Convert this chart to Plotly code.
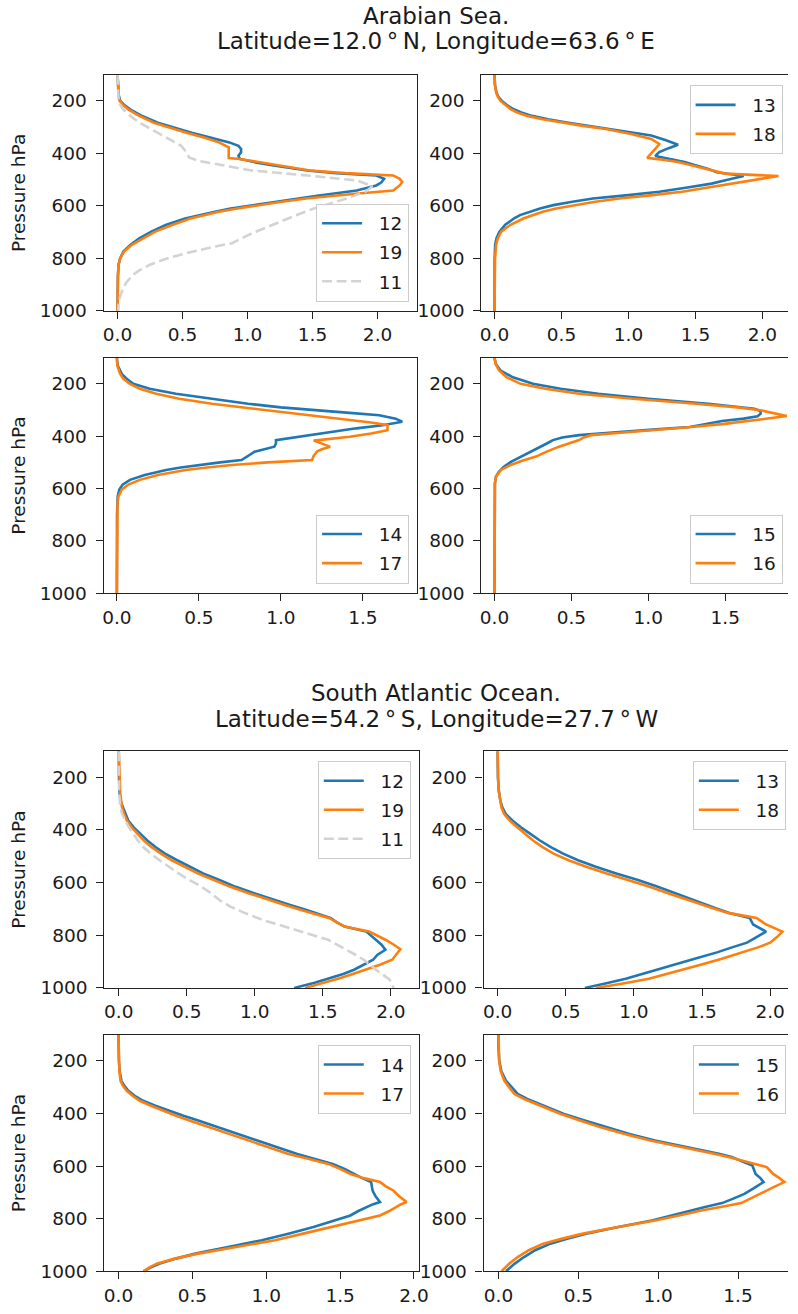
import plotly.graph_objects as go

W, H = 798, 1314
BLUE, ORANGE, GREY = "#1f77b4", "#ff7f0e", "#d3d3d3"
FONT = "DejaVu Sans"
INK = "#1a1a1a"

# ---------------- Arabian Sea (12.0 N, 63.6 E) ----------------
# pressure levels (hPa) and profile values for each experiment
as12_p = [101, 150, 180, 199, 215, 233, 255, 283, 300, 321, 340, 358, 371, 383, 396, 409, 421, 433, 446, 465, 475, 484, 497, 510, 522, 541, 560, 572, 585, 597, 610, 623, 648, 673, 698, 723, 748, 774, 800, 824, 870, 1000]
as12_v = [0.0, 0.003, 0.01, 0.02, 0.05, 0.10, 0.18, 0.31, 0.42, 0.57, 0.72, 0.86, 0.93, 0.95, 0.95, 0.93, 0.94, 1.05, 1.2, 1.46, 1.68, 1.99, 2.05, 2.03, 1.99, 1.84, 1.55, 1.38, 1.20, 1.02, 0.87, 0.74, 0.52, 0.37, 0.26, 0.17, 0.10, 0.045, 0.02, 0.008, 0.003, 0.0]
as19_p = [101, 150, 180, 199, 215, 233, 255, 283, 300, 321, 340, 358, 377, 396, 418, 421, 433, 446, 465, 475, 484, 497, 509, 522, 541, 553, 572, 585, 597, 610, 623, 648, 673, 698, 723, 748, 774, 800, 824, 870, 1000]
as19_v = [0.0, 0.003, 0.008, 0.015, 0.04, 0.085, 0.16, 0.28, 0.39, 0.53, 0.67, 0.78, 0.855, 0.855, 0.855, 0.94, 1.08, 1.23, 1.48, 1.75, 2.12, 2.17, 2.19, 2.17, 2.12, 1.85, 1.45, 1.25, 1.08, 0.92, 0.77, 0.56, 0.42, 0.29, 0.20, 0.11, 0.05, 0.02, 0.008, 0.003, 0.0]
as11_p = [101, 150, 199, 215, 233, 258, 283, 308, 333, 352, 371, 396, 415, 428, 440, 453, 465, 484, 503, 525, 545, 572, 610, 640, 673, 705, 742, 760, 780, 800, 824, 845, 862, 890, 912, 945, 975, 1000]
as11_v = [0.0, 0.002, 0.008, 0.02, 0.045, 0.10, 0.17, 0.26, 0.35, 0.42, 0.49, 0.53, 0.55, 0.62, 0.76, 0.88, 1.03, 1.46, 1.84, 1.96, 1.91, 1.76, 1.51, 1.35, 1.18, 1.03, 0.88, 0.70, 0.53, 0.38, 0.25, 0.17, 0.12, 0.07, 0.045, 0.02, 0.008, 0.005]

as13_p = [101, 140, 168, 185, 200, 215, 231, 244, 257, 270, 282, 295, 307, 320, 332, 350, 367, 380, 395, 410, 422, 433, 445, 458, 472, 486, 500, 515, 530, 546, 560, 572, 585, 597, 610, 622, 635, 647, 672, 698, 723, 748, 800, 1000]
as13_v = [0.0, 0.004, 0.015, 0.03, 0.055, 0.09, 0.14, 0.20, 0.28, 0.40, 0.54, 0.70, 0.87, 1.02, 1.17, 1.28, 1.37, 1.30, 1.23, 1.20, 1.32, 1.42, 1.50, 1.59, 1.66, 1.86, 1.74, 1.62, 1.44, 1.23, 0.98, 0.735, 0.57, 0.44, 0.34, 0.26, 0.19, 0.147, 0.08, 0.037, 0.015, 0.005, 0.001, 0.0]
as18_p = [101, 140, 168, 185, 200, 215, 231, 244, 257, 270, 282, 295, 307, 326, 345, 364, 383, 400, 417, 425, 433, 445, 458, 477, 486, 500, 515, 530, 546, 560, 572, 585, 597, 610, 622, 635, 647, 672, 698, 723, 748, 800, 1000]
as18_v = [0.0, 0.003, 0.012, 0.025, 0.045, 0.08, 0.12, 0.17, 0.245, 0.36, 0.49, 0.66, 0.83, 1.02, 1.17, 1.23, 1.20, 1.17, 1.14, 1.27, 1.37, 1.47, 1.57, 1.72, 2.12, 1.95, 1.79, 1.60, 1.40, 1.16, 0.93, 0.74, 0.59, 0.46, 0.36, 0.28, 0.22, 0.12, 0.05, 0.025, 0.012, 0.004, 0.0]

as14_p = [101, 130, 162, 181, 200, 219, 238, 257, 276, 290, 301, 310, 320, 333, 345, 358, 370, 386, 402, 415, 428, 440, 459, 475, 491, 500, 510, 520, 529, 548, 567, 585, 604, 630, 700, 1000]
as14_v = [0.0, 0.005, 0.03, 0.06, 0.10, 0.20, 0.36, 0.57, 0.80, 1.00, 1.20, 1.40, 1.60, 1.70, 1.74, 1.62, 1.46, 1.28, 1.10, 0.97, 0.97, 0.96, 0.84, 0.80, 0.76, 0.63, 0.50, 0.39, 0.30, 0.17, 0.08, 0.035, 0.015, 0.005, 0.001, 0.0]
as17_p = [101, 130, 162, 181, 200, 219, 238, 257, 276, 295, 314, 326, 339, 348, 358, 377, 390, 402, 417, 428, 440, 450, 459, 475, 491, 500, 510, 520, 529, 548, 567, 585, 604, 630, 655, 1000]
as17_v = [0.0, 0.003, 0.02, 0.04, 0.08, 0.14, 0.24, 0.38, 0.58, 0.83, 1.10, 1.27, 1.42, 1.55, 1.65, 1.65, 1.55, 1.42, 1.20, 1.25, 1.30, 1.25, 1.22, 1.20, 1.19, 0.92, 0.70, 0.55, 0.42, 0.25, 0.14, 0.07, 0.03, 0.01, 0.004, 0.0]

as15_p = [101, 125, 149, 175, 200, 219, 238, 257, 276, 295, 304, 314, 324, 333, 342, 353, 365, 374, 383, 396, 405, 415, 428, 440, 459, 478, 497, 516, 535, 554, 580, 1000]
as15_v = [0.0, 0.01, 0.04, 0.12, 0.25, 0.43, 0.675, 1.0, 1.39, 1.69, 1.73, 1.73, 1.71, 1.62, 1.48, 1.38, 1.27, 1.05, 0.84, 0.55, 0.44, 0.38, 0.34, 0.30, 0.24, 0.17, 0.11, 0.063, 0.03, 0.01, 0.003, 0.0]
as16_p = [101, 125, 149, 175, 200, 219, 238, 257, 276, 290, 301, 312, 323, 338, 354, 366, 377, 387, 396, 405, 415, 428, 440, 459, 478, 494, 510, 529, 554, 580, 1000]
as16_v = [0.0, 0.008, 0.03, 0.08, 0.17, 0.33, 0.55, 0.90, 1.31, 1.58, 1.73, 1.82, 1.90, 1.70, 1.48, 1.26, 1.05, 0.82, 0.63, 0.58, 0.55, 0.48, 0.42, 0.34, 0.27, 0.18, 0.105, 0.042, 0.01, 0.003, 0.0]

# ---------------- South Atlantic Ocean (54.2 S, 27.7 W) ----------------
sa12_p = [101, 150, 200, 263, 290, 313, 340, 364, 390, 414, 440, 465, 490, 515, 540, 565, 590, 616, 641, 666, 685, 704, 720, 735, 750, 767, 786, 800, 817, 835, 855, 875, 893, 912, 931, 947, 962, 980, 1000]
sa12_v = [0.0, 0.0, 0.002, 0.007, 0.015, 0.03, 0.05, 0.07, 0.11, 0.155, 0.21, 0.27, 0.34, 0.43, 0.52, 0.62, 0.74, 0.86, 1.0, 1.14, 1.26, 1.38, 1.48, 1.56, 1.60, 1.66, 1.82, 1.85, 1.89, 1.93, 1.96, 1.90, 1.87, 1.80, 1.73, 1.65, 1.56, 1.44, 1.29]
sa19_p = [101, 150, 200, 263, 290, 313, 340, 364, 390, 414, 440, 465, 490, 515, 540, 565, 590, 616, 641, 666, 685, 704, 720, 735, 750, 767, 786, 800, 817, 835, 853, 873, 893, 912, 931, 947, 962, 980, 1000]
sa19_v = [0.0, 0.002, 0.007, 0.012, 0.018, 0.024, 0.04, 0.06, 0.095, 0.135, 0.185, 0.24, 0.31, 0.39, 0.48, 0.58, 0.70, 0.82, 0.96, 1.10, 1.22, 1.34, 1.45, 1.55, 1.60, 1.66, 1.84, 1.90, 1.96, 2.02, 2.07, 2.04, 2.01, 1.92, 1.82, 1.72, 1.63, 1.51, 1.37]
sa11_p = [101, 200, 263, 313, 340, 364, 390, 414, 440, 465, 490, 515, 540, 565, 590, 616, 641, 666, 691, 716, 742, 760, 780, 800, 817, 836, 855, 874, 893, 912, 931, 950, 968, 985, 1000]
sa11_v = [0.0, 0.0, 0.003, 0.012, 0.025, 0.048, 0.075, 0.107, 0.14, 0.18, 0.235, 0.30, 0.37, 0.44, 0.52, 0.61, 0.68, 0.74, 0.82, 0.93, 1.06, 1.17, 1.30, 1.43, 1.54, 1.61, 1.68, 1.74, 1.80, 1.85, 1.89, 1.94, 1.99, 2.01, 2.02]

sa13_p = [101, 150, 200, 250, 290, 315, 340, 365, 390, 415, 440, 465, 490, 515, 540, 565, 590, 615, 640, 660, 678, 697, 715, 734, 759, 786, 807, 828, 846, 865, 890, 915, 940, 965, 983, 1000]
sa13_v = [0.0, 0.0, 0.002, 0.008, 0.02, 0.035, 0.06, 0.11, 0.17, 0.24, 0.31, 0.39, 0.48, 0.59, 0.72, 0.87, 1.03, 1.17, 1.30, 1.40, 1.49, 1.60, 1.70, 1.85, 1.875, 1.97, 1.90, 1.83, 1.72, 1.61, 1.44, 1.27, 1.10, 0.94, 0.79, 0.64]
sa18_p = [101, 150, 200, 250, 290, 315, 340, 365, 390, 415, 440, 465, 490, 515, 540, 565, 590, 615, 640, 660, 678, 697, 715, 734, 759, 786, 807, 828, 846, 865, 890, 915, 940, 965, 983, 1000]
sa18_v = [0.0, 0.0, 0.003, 0.007, 0.017, 0.028, 0.048, 0.09, 0.144, 0.20, 0.26, 0.33, 0.41, 0.52, 0.65, 0.80, 0.96, 1.11, 1.25, 1.36, 1.46, 1.58, 1.69, 1.90, 1.97, 2.09, 2.05, 2.0, 1.91, 1.80, 1.64, 1.47, 1.29, 1.11, 0.92, 0.72]

sa14_p = [101, 150, 200, 240, 276, 295, 314, 333, 352, 371, 390, 409, 427, 446, 465, 490, 516, 535, 554, 573, 592, 611, 630, 646, 661, 677, 693, 715, 737, 746, 756, 772, 788, 810, 832, 857, 882, 907, 933, 952, 971, 985, 1000]
sa14_v = [0.0, 0.0, 0.003, 0.008, 0.02, 0.04, 0.067, 0.11, 0.167, 0.25, 0.34, 0.44, 0.54, 0.64, 0.74, 0.88, 1.01, 1.11, 1.21, 1.33, 1.45, 1.53, 1.59, 1.65, 1.71, 1.715, 1.72, 1.74, 1.77, 1.72, 1.68, 1.62, 1.57, 1.45, 1.32, 1.15, 0.97, 0.75, 0.52, 0.39, 0.28, 0.22, 0.17]
sa17_p = [101, 150, 200, 240, 276, 295, 314, 333, 352, 371, 390, 409, 427, 446, 465, 490, 516, 535, 554, 573, 592, 611, 630, 646, 661, 677, 693, 715, 737, 746, 756, 772, 788, 810, 832, 857, 882, 907, 933, 952, 971, 985, 1000]
sa17_v = [0.0, 0.0, 0.004, 0.007, 0.014, 0.03, 0.056, 0.095, 0.144, 0.22, 0.30, 0.39, 0.48, 0.58, 0.68, 0.81, 0.94, 1.05, 1.15, 1.29, 1.42, 1.50, 1.57, 1.66, 1.77, 1.81, 1.86, 1.90, 1.95, 1.91, 1.88, 1.83, 1.77, 1.61, 1.43, 1.25, 1.06, 0.80, 0.54, 0.38, 0.26, 0.21, 0.17]

sa15_p = [101, 150, 200, 240, 276, 300, 326, 345, 364, 383, 402, 427, 453, 478, 503, 522, 541, 553, 566, 582, 598, 614, 630, 646, 661, 684, 706, 724, 741, 755, 769, 788, 807, 832, 857, 876, 895, 920, 946, 972, 1000]
sa15_v = [0.0, 0.0, 0.005, 0.018, 0.047, 0.08, 0.12, 0.18, 0.26, 0.33, 0.41, 0.54, 0.675, 0.82, 0.98, 1.13, 1.29, 1.38, 1.46, 1.53, 1.59, 1.60, 1.61, 1.64, 1.66, 1.60, 1.54, 1.47, 1.40, 1.30, 1.21, 1.09, 0.96, 0.75, 0.55, 0.43, 0.325, 0.23, 0.16, 0.10, 0.047]
sa16_p = [101, 150, 200, 240, 276, 300, 326, 345, 364, 383, 402, 427, 453, 478, 503, 522, 541, 553, 566, 585, 604, 617, 630, 646, 661, 684, 706, 724, 741, 755, 769, 788, 807, 832, 857, 876, 895, 920, 946, 972, 1000]
sa16_v = [0.0, 0.0, 0.004, 0.014, 0.037, 0.066, 0.10, 0.16, 0.24, 0.31, 0.39, 0.51, 0.64, 0.79, 0.95, 1.10, 1.26, 1.35, 1.44, 1.56, 1.68, 1.70, 1.72, 1.76, 1.79, 1.71, 1.64, 1.58, 1.52, 1.40, 1.27, 1.13, 0.98, 0.75, 0.53, 0.40, 0.28, 0.19, 0.12, 0.065, 0.02]

P_RANGE = [1000, 101]
P_TICKS = [200, 400, 600, 800, 1000]
X_TICKS = [0.0, 0.5, 1.0, 1.5, 2.0]

SOLID, DASH = "solid", "10px,4.5px"

# panel layout in pixels: x extent, y extent, x range, legend anchor
panels = [
    dict(series=[("12", as12_p, as12_v, BLUE, SOLID), ("19", as19_p, as19_v, ORANGE, SOLID), ("11", as11_p, as11_v, GREY, DASH)],
         xr=[-0.106, 2.306], px=(103.3, 421.7), py=(75.5, 313.3), leg=(413.3, 304, "right", "bottom"), left=True),
    dict(series=[("13", as13_p, as13_v, BLUE, SOLID), ("18", as18_p, as18_v, ORANGE, SOLID)],
         xr=[-0.098, 2.191], px=(486.7, 798), py=(75.5, 313.3), leg=(792.5, 86, "right", "top"), left=False),
    dict(series=[("14", as14_p, as14_v, BLUE, SOLID), ("17", as17_p, as17_v, ORANGE, SOLID)],
         xr=[-0.08, 1.832], px=(103.3, 421.7), py=(360.7, 597.7), leg=(413.3, 588, "right", "bottom"), left=True),
    dict(series=[("15", as15_p, as15_v, BLUE, SOLID), ("16", as16_p, as16_v, ORANGE, SOLID)],
         xr=[-0.085, 1.908], px=(486.7, 798), py=(360.7, 597.7), leg=(792.5, 588, "right", "bottom"), left=False),
    dict(series=[("12", sa12_p, sa12_v, BLUE, SOLID), ("19", sa19_p, sa19_v, ORANGE, SOLID), ("11", sa11_p, sa11_v, GREY, DASH)],
         xr=[-0.105, 2.208], px=(104, 423.5), py=(757, 995.5), leg=(415, 767, "right", "top"), left=True),
    dict(series=[("13", sa13_p, sa13_v, BLUE, SOLID), ("18", sa18_p, sa18_v, ORANGE, SOLID)],
         xr=[-0.103, 2.131], px=(489, 798), py=(757, 995.5), leg=(795.8, 767, "right", "top"), left=False),
    dict(series=[("14", sa14_p, sa14_v, BLUE, SOLID), ("17", sa17_p, sa17_v, ORANGE, SOLID)],
         xr=[-0.095, 2.035], px=(104, 423.5), py=(1042.7, 1281), leg=(415, 1053, "right", "top"), left=True),
    dict(series=[("15", sa15_p, sa15_v, BLUE, SOLID), ("16", sa16_p, sa16_v, ORANGE, SOLID)],
         xr=[-0.093, 1.813], px=(489, 798), py=(1042.7, 1281), leg=(795.8, 1053, "right", "top"), left=False),
]

fig = go.Figure()
tick_font = dict(family=FONT, size=18.5, color=INK)

for i, pan in enumerate(panels, start=1):
    sfx = "" if i == 1 else str(i)
    for name, p, v, color, dash in pan["series"]:
        fig.add_trace(go.Scatter(
            x=v, y=p, mode="lines", name="\u00a0\u00a0" + name,
            line=dict(color=color, width=2.6, dash=dash),
            xaxis="x" + sfx, yaxis="y" + sfx,
            legend="legend" + sfx, legendgroup=f"g{i}_{name}",
        ))
    x0, x1 = pan["px"]
    y0, y1 = pan["py"]
    fig.layout["xaxis" + sfx] = dict(
        domain=[x0 / W, min(x1 / W, 1.0)], range=pan["xr"], anchor="y" + sfx,
        showline=True, linecolor="#222", linewidth=1.4, mirror=True,
        ticks="outside", ticklen=7, tickwidth=1.4, tickcolor="#222",
        tickvals=X_TICKS, tickformat=".1f", tickfont=tick_font,
        showgrid=False, zeroline=False,
    )
    fig.layout["yaxis" + sfx] = dict(
        domain=[1 - y1 / H, 1 - y0 / H], range=P_RANGE, anchor="x" + sfx,
        showline=True, linecolor="#222", linewidth=1.4, mirror=pan["left"],
        ticks="outside", ticklen=7, tickwidth=1.4, tickcolor="#222",
        tickvals=P_TICKS, tickfont=tick_font, ticklabelstandoff=5,
        showgrid=False, zeroline=False,
        title=dict(text="Pressure hPa" if pan["left"] else "",
                   font=dict(family=FONT, size=18.5, color=INK), standoff=9),
    )
    lx, ly, xa, ya = pan["leg"]
    fig.layout["legend" + sfx] = dict(
        x=lx / W, y=1 - ly / H, xanchor=xa, yanchor=ya,
        bgcolor="rgba(255,255,255,0.8)", bordercolor="#cccccc", borderwidth=1,
        font=dict(family=FONT, size=18.5, color=INK),
        itemwidth=40, tracegroupgap=2,
    )

# two-line titles above each group of panels
titles = [
    ("Arabian Sea.", 16.2), ("Latitude=12.0\u2009°\u2009N, Longitude=63.6\u2009°\u2009E", 41.7),
    ("South Atlantic Ocean.", 698.7), ("Latitude=54.2\u2009°\u2009S, Longitude=27.7\u2009°\u2009W", 724.7),
]
for text, yc in titles:
    fig.add_annotation(text=text, x=441 / W, y=1 - yc / H, xref="paper", yref="paper",
                       xanchor="center", yanchor="middle", showarrow=False,
                       font=dict(family=FONT, size=23, color=INK))

fig.update_layout(
    width=W, height=H, margin=dict(l=0, r=0, t=0, b=0),
    paper_bgcolor="white", plot_bgcolor="white",
    font=dict(family=FONT, color=INK),
)

fig.write_html("out.html")
